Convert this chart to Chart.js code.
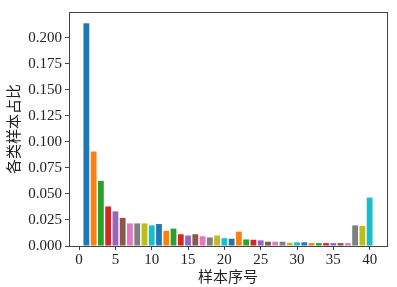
<!DOCTYPE html>
<html>
<head>
<meta charset="utf-8">
<script src="https://cdn.jsdelivr.net/npm/chart.js@4/dist/chart.umd.min.js"></script>
<style>
  html, body { margin: 0; padding: 0; background: #fff; }
  #wrap { width: 397px; height: 287px; }
</style>
</head>
<body>
<div id="wrap"><canvas id="chart"></canvas></div>
<script>
// sample index 1..40 and share of each class
const sampleIds = [
    1, 2, 3, 4, 5, 6, 7, 8, 9, 10,
    11, 12, 13, 14, 15, 16, 17, 18, 19, 20,
    21, 22, 23, 24, 25, 26, 27, 28, 29, 30,
    31, 32, 33, 34, 35, 36, 37, 38, 39, 40
];
const shares = [
    0.214, 0.0908, 0.0625, 0.038, 0.0333, 0.027, 0.0217, 0.0217, 0.0217, 0.0198,
    0.0211, 0.0145, 0.0167, 0.0113, 0.0101, 0.0113, 0.0094, 0.0082, 0.0101, 0.0075,
    0.007, 0.0138, 0.0063, 0.006, 0.0054, 0.0041, 0.0041, 0.0041, 0.0032, 0.0035,
    0.0035, 0.0028, 0.0028, 0.0028, 0.0028, 0.0028, 0.0028, 0.0198, 0.0192, 0.0465
];
const yTicks = [0, 0.025, 0.05, 0.075, 0.1, 0.125, 0.15, 0.175, 0.2];
const xTicks = [0, 5, 10, 15, 20, 25, 30, 35, 40];

const palette = ['#1f77b4', '#ff7f0e', '#2ca02c', '#d62728', '#9467bd',
                 '#8c564b', '#e377c2', '#7f7f7f', '#bcbd22', '#17becf'];

const tickFont = { family: "'Liberation Serif', 'DejaVu Serif', serif", size: 15 };
const titleFont = { family: "'Noto Sans CJK SC', sans-serif", size: 15 };

const frame = {
    id: 'frame',
    afterDraw(chart) {
        const { ctx, chartArea: a } = chart;
        ctx.save();
        ctx.strokeStyle = '#444';
        ctx.lineWidth = 1;
        ctx.strokeRect(Math.round(a.left) + 0.5, Math.round(a.top) + 0.5,
            Math.round(a.right - a.left), Math.round(a.bottom - a.top));
        ctx.restore();
    }
};

new Chart(document.getElementById('chart'), {
    type: 'bar',
    data: {
        datasets: [{
            data: sampleIds.map((id, i) => ({ x: id, y: shares[i] })),
            backgroundColor: sampleIds.map((id, i) => palette[i % 10]),
            borderWidth: 0,
            barPercentage: 0.8,
            categoryPercentage: 1
        }]
    },
    options: {
        responsive: true,
        maintainAspectRatio: false,
        animation: false,
        layout: { padding: { top: 7, right: 10, left: 0, bottom: 0 } },
        plugins: { legend: { display: false }, tooltip: { enabled: false } },
        scales: {
            x: {
                type: 'linear',
                offset: false,
                min: -1.39,
                max: 42.39,
                afterBuildTicks: s => { s.ticks = xTicks.map(v => ({ value: v })); },
                afterFit: s => { s.height = 41; },
                ticks: { font: tickFont, color: '#222', padding: 1, maxRotation: 0,
                         callback: v => String(v) },
                grid: { offset: false, drawOnChartArea: false, tickLength: 4, tickColor: '#444' },
                border: { color: '#444' },
                title: { display: true, text: '样本序号', font: titleFont, color: '#222',
                         padding: { top: 0, bottom: 2 } }
            },
            y: {
                min: 0,
                max: 0.2248,
                afterBuildTicks: s => { s.ticks = yTicks.map(v => ({ value: v })); },
                afterFit: s => { s.width = 69; },
                ticks: { font: tickFont, color: '#222', padding: 3,
                         callback: v => v.toFixed(3) },
                grid: { drawOnChartArea: false, tickLength: 4, tickColor: '#444' },
                border: { color: '#444' },
                title: { display: true, text: '各类样本占比', font: titleFont, color: '#222',
                         padding: { top: 4, bottom: 0 } }
            }
        }
    },
    plugins: [frame]
});
</script>
</body>
</html>
